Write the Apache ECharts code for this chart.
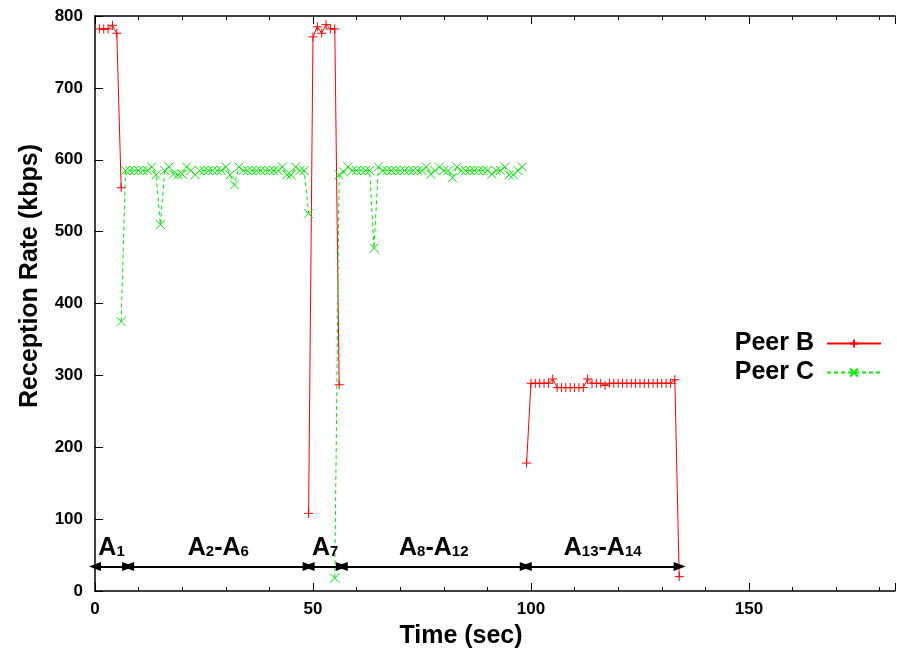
<!DOCTYPE html>
<html>
<head>
<meta charset="utf-8">
<script src="https://cdn.jsdelivr.net/npm/echarts@6/dist/echarts.min.js"></script>
<style>
html,body{margin:0;padding:0;background:#fff;}
#chart{width:897px;height:656px;}
</style>
</head>
<body>
<div id="chart"></div>
<script>
// ---- data ----
const xTickLabels = [0, 50, 100, 150];
const yTickLabels = [0, 100, 200, 300, 400, 500, 600, 700, 800];

const timesB = [1,2,3,4,5,6,7,
  49,50,51,52,53,54,55,56,57,
  99,100,101,102,103,104,105,106,107,108,109,110,111,112,113,114,115,116,117,
  118,119,120,121,122,123,124,125,126,127,128,129,130,131,132,133,134];
const valuesB = [782,782,782,787,776,561,null,
  108,771,785,776,788,782,782,287,null,
  178,289,289,289,289,289,295,283,283,283,283,283,283,283,295,289,289,289,286,
  289,289,289,289,289,289,289,289,289,289,289,289,289,289,289,294,20];

const timesC = [6,7,8,9,10,11,12,13,14,15,16,17,18,19,20,21,22,23,24,25,26,27,28,29,30,
  31,32,33,34,35,36,37,38,39,40,41,42,43,44,45,46,47,48,49,50,
  55,56,57,58,59,60,61,62,63,64,65,66,67,68,69,70,71,72,73,74,75,76,77,78,79,80,
  81,82,83,84,85,86,87,88,89,90,91,92,93,94,95,96,97,98];
const valuesC = [375,585,585,585,585,585,585,590,579,510,585,590,580,579,580,590,585,579,585,585,585,585,585,585,590,
  579,565,590,585,585,585,585,585,585,585,585,585,590,579,579,590,585,585,525,null,
  18,579,583,590,585,585,585,585,585,477,590,585,585,585,585,585,585,585,585,585,585,590,580,585,590,585,
  585,575,590,585,585,585,585,585,585,585,580,585,585,590,579,579,585,590];

// annotation segments (time boundaries) and their labels
const segBounds = [0, 7.6, 49, 56.6, 98.8, 134.1];
const segLabels = [["1"], ["2","6"], ["7"], ["8","12"], ["13","14"]];
const segLevel = 34;

// visible x range (the reference is cropped on the right)
const xMin = 0, xMax = 183.5;

// ---- build ----
const pairsB = timesB.map((t, i) => [t, valuesB[i]]);
const pairsC = timesC.map((t, i) => [t, valuesC[i]]);

function segLabel(parts) {
  if (parts.length === 1) return '{a|A}{s|' + parts[0] + '}';
  return '{a|A}{s|' + parts[0] + '}{a|-A}{s|' + parts[1] + '}';
}
const markData = [];
for (let i = 0; i < segLabels.length; i++) {
  markData.push([
    {coord: [segBounds[i], segLevel], label: {formatter: segLabel(segLabels[i])}},
    {coord: [segBounds[i + 1], segLevel]}
  ]);
}

const FONT = '"Liberation Sans", Arial, Helvetica, sans-serif';
const RED = '#ff0000';
const GREEN = '#00ee00';

function xAx(pos, interval, tickLen, showLine, showLabels) {
  return {
    type: 'value', min: xMin, max: xMax, interval: interval, position: pos,
    axisLine: {show: showLine, onZero: false, lineStyle: {color: '#000', width: 1.5}},
    axisTick: {show: true, inside: true, length: tickLen, lineStyle: {color: '#000', width: 1}},
    splitLine: {show: false},
    axisLabel: {
      show: showLabels, margin: 10, color: '#000', fontSize: 17, fontWeight: 'bold', fontFamily: FONT,
      showMaxLabel: false,
      formatter: v => (xTickLabels.indexOf(v) >= 0 ? String(v) : '')
    }
  };
}

const chart = echarts.init(document.getElementById('chart'), null, {renderer: 'canvas'});
chart.setOption({
  animation: false,
  backgroundColor: '#ffffff',
  grid: {left: 95, top: 16, right: 2, bottom: 65, containLabel: false},
  xAxis: [
    xAx('bottom', 10, 4, true, true),
    xAx('bottom', 50, 8, false, false),
    xAx('top', 10, 4, true, false),
    xAx('top', 50, 8, false, false)
  ],
  yAxis: [{
    type: 'value', min: 0, max: 800, interval: 100, position: 'left',
    axisLine: {show: true, onZero: false, lineStyle: {color: '#000', width: 1.5}},
    axisTick: {show: true, inside: true, length: 8, lineStyle: {color: '#000', width: 1}},
    splitLine: {show: false},
    axisLabel: {
      show: true, margin: 12, color: '#000', fontSize: 17, fontWeight: 'bold', fontFamily: FONT,
      formatter: v => (yTickLabels.indexOf(v) >= 0 ? String(v) : '')
    }
  }],
  legend: {
    orient: 'vertical', right: 10, top: 324, align: 'right',
    itemWidth: 54, itemHeight: 10, itemGap: 0,
    textStyle: {color: '#000', fontSize: 25, fontWeight: 'bold', fontFamily: FONT, lineHeight: 29, padding: [0, 8, 0, 0]},
    data: ['Peer B', 'Peer C']
  },
  graphic: [{
    type: 'text', x: 461, y: 636,
    style: {text: 'Time (sec)', font: 'bold 25px ' + FONT, fill: '#000', textAlign: 'center', textVerticalAlign: 'middle'}
  }, {
    type: 'text', x: 30, y: 276, rotation: Math.PI / 2,
    style: {text: 'Reception Rate (kbps)', font: 'bold 25px ' + FONT, fill: '#000', textAlign: 'center', textVerticalAlign: 'middle'}
  }],
  series: [{
    name: 'Peer B', type: 'line', xAxisIndex: 0, yAxisIndex: 0,
    data: pairsB, connectNulls: false,
    symbol: 'path://M0,5L10,5M5,0L5,10', symbolSize: 9, showAllSymbol: true,
    lineStyle: {color: RED, width: 1},
    itemStyle: {color: RED, borderColor: RED, borderWidth: 1},
    emphasis: {disabled: true},
    markLine: {
      silent: true, animation: false,
      symbol: ['triangle', 'triangle'], symbolSize: [9, 12],
      lineStyle: {color: '#000', width: 2, type: 'solid'},
      label: {
        show: true, position: 'insideMiddleTop', distance: 6, color: '#000',
        rich: {
          a: {fontSize: 25, fontWeight: 'bold', fontFamily: FONT, color: '#000', verticalAlign: 'bottom'},
          s: {fontSize: 15, fontWeight: 'bold', fontFamily: FONT, color: '#000', verticalAlign: 'bottom', padding: [0, 0, 1, 0]}
        }
      },
      emphasis: {disabled: true},
      data: markData
    }
  }, {
    name: 'Peer C', type: 'line', xAxisIndex: 0, yAxisIndex: 0,
    data: pairsC, connectNulls: false,
    symbol: 'path://M0,0L10,10M10,0L0,10', symbolSize: 9, showAllSymbol: true,
    lineStyle: {color: GREEN, width: 1, type: [4, 3]},
    itemStyle: {color: GREEN, borderColor: GREEN, borderWidth: 1},
    emphasis: {disabled: true}
  }]
});
</script>
</body>
</html>
